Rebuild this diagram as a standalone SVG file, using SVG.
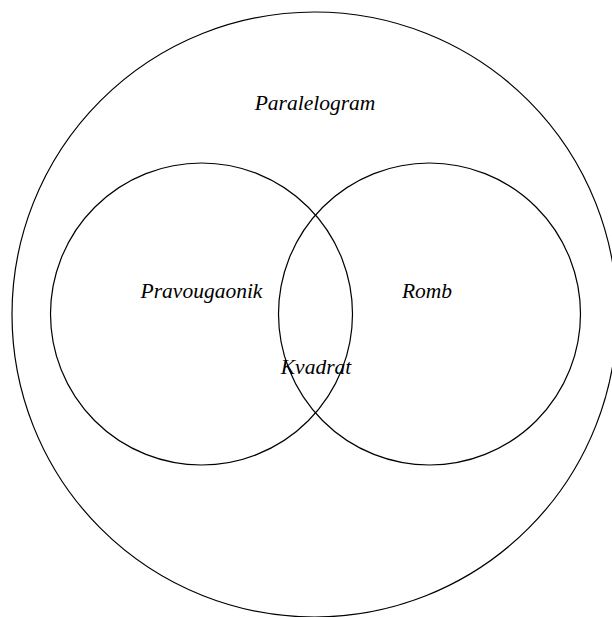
<svg xmlns="http://www.w3.org/2000/svg" width="612" height="617" viewBox="0 0 612 617">
<style>
.c{fill:none;stroke:#000;stroke-width:1.2}
.t{font-family:"Liberation Serif",serif;font-style:italic;font-size:21.5px;text-anchor:middle;fill:#000}
</style>
<rect width="612" height="617" fill="#fff"/>
<g id="paralelogram"><circle class="c" cx="314.5" cy="314.5" r="302.5"/><text class="t" x="315" y="110">Paralelogram</text></g>
<g id="pravougaonik"><circle class="c" cx="201.5" cy="314" r="151"/><text class="t" x="201.5" y="298">Pravougaonik</text></g>
<g id="romb"><circle class="c" cx="429.5" cy="314" r="151"/><text class="t" x="427" y="298">Romb</text></g>
<g id="kvadrat"><text class="t" x="316" y="374">Kvadrat</text></g>
<g id="connectors"/>
</svg>
